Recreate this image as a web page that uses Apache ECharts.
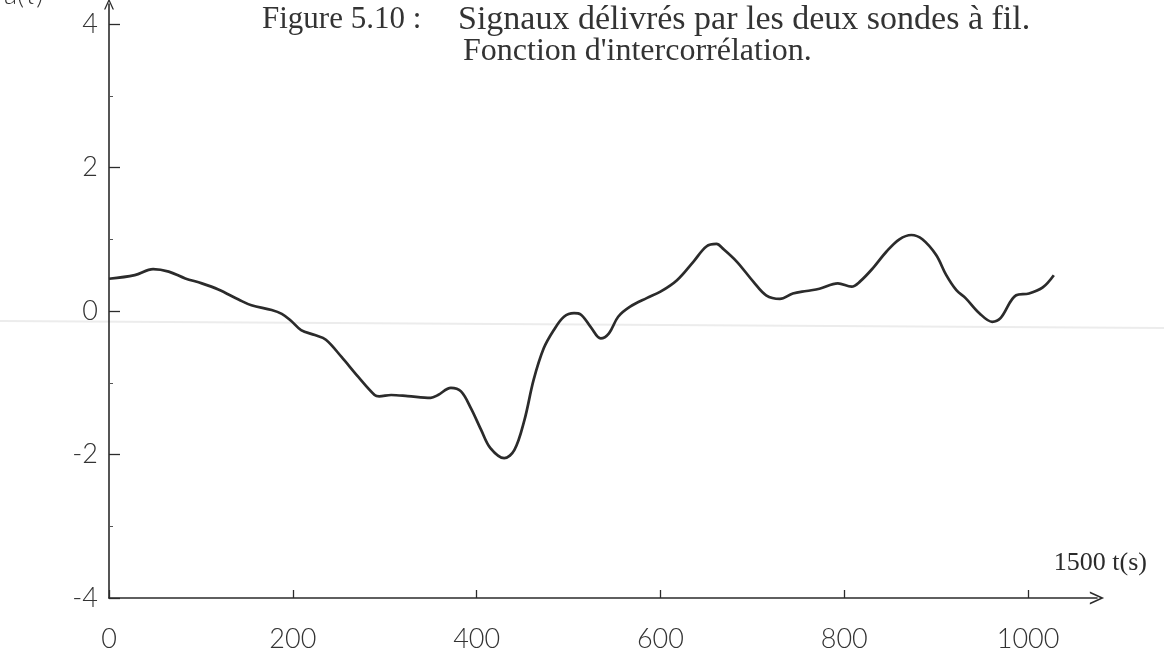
<!DOCTYPE html>
<html>
<head>
<meta charset="utf-8">
<script src="https://cdn.jsdelivr.net/npm/echarts@6/dist/echarts.min.js"></script>
<style>
  html, body { margin: 0; padding: 0; background: #fff; }
  #chart { width: 1164px; height: 660px; }
</style>
</head>
<body>
<div id="chart"></div>
<script>
// Cross-correlation of the two wire-probe signals, lag t in seconds
const lagT = [0, 28, 48, 65, 83, 101, 119, 141, 155, 177, 188, 198, 209, 224, 236, 253, 271, 289, 294, 307, 325, 350, 358, 372, 383, 394, 405, 415, 430, 441, 452, 462, 473, 484, 495, 506, 513, 524, 535, 544, 554, 567, 585, 600, 618, 636, 650, 661, 668, 683, 701, 715, 730, 744, 759, 773, 793, 808, 817, 831, 846, 860, 873, 885, 900, 911, 922, 932, 947, 961, 970, 987, 1001, 1016, 1028];
const corr = [0.45, 0.50, 0.585, 0.55, 0.455, 0.386, 0.30, 0.16, 0.08, 0.014, -0.04, -0.135, -0.265, -0.335, -0.40, -0.64, -0.915, -1.17, -1.19, -1.17, -1.185, -1.21, -1.17, -1.07, -1.12, -1.36, -1.66, -1.91, -2.05, -1.94, -1.52, -0.96, -0.52, -0.265, -0.08, -0.03, -0.045, -0.22, -0.38, -0.31, -0.08, 0.06, 0.18, 0.27, 0.43, 0.69, 0.90, 0.935, 0.87, 0.69, 0.41, 0.22, 0.17, 0.245, 0.28, 0.31, 0.385, 0.34, 0.41, 0.595, 0.83, 1.0, 1.06, 1.0, 0.78, 0.50, 0.29, 0.18, -0.03, -0.15, -0.10, 0.22, 0.245, 0.33, 0.50];

const xTicks = [0, 200, 400, 600, 800, 1000];
const yTicks = [-4, -2, 0, 2, 4];
const yMinorTicks = [-3, -1, 1, 3];
const titleLine1Left = 'Figure 5.10 :';
const titleLine1Right = 'Signaux délivrés par les deux sondes à fil.';
const titleLine2 = "Fonction d'intercorrélation.";
const xName = '1500 t(s)';
const yName = 'a(τ)';

const points = lagT.map((t, i) => [t, corr[i]]);

const ink = '#2b2b2b';
const serif = '"Liberation Serif", "DejaVu Serif", serif';
const sans = 'Lato, "Open Sans", sans-serif';
const openArrow = 'path://M5,0 L10,11 L8.6,11 L5,3 L1.4,11 L0,11 Z';

const chart = echarts.init(document.getElementById('chart'), null, { renderer: 'canvas' });

chart.setOption({
  backgroundColor: '#ffffff',
  animation: false,
  grid: { left: 109, right: 67, top: 4, bottom: 62, containLabel: false },
  xAxis: {
    type: 'value',
    min: 0,
    max: 1075,
    interval: 200,
    name: xName,
    nameLocation: 'end',
    nameGap: 50,
    nameTextStyle: {
      fontFamily: serif, fontSize: 26, color: ink,
      align: 'right', verticalAlign: 'bottom', padding: [0, 0, 22, 0]
    },
    axisLine: {
      show: true, onZero: false,
      symbol: ['none', openArrow], symbolSize: [13, 18],
      lineStyle: { color: ink, width: 1.6 }
    },
    axisTick: { show: true, inside: true, length: 8, customValues: xTicks, lineStyle: { color: ink, width: 1.3 } },
    axisLabel: {
      customValues: xTicks, margin: 28,
      formatter: v => String(v),
      fontFamily: sans, fontWeight: 300, fontSize: 27, color: '#333'
    },
    splitLine: { show: false }
  },
  yAxis: [
    {
      type: 'value',
      min: -4,
      max: 4.28,
      interval: 2,
      axisLine: {
        show: true, onZero: false,
        symbol: ['none', openArrow], symbolSize: [10, 14],
        lineStyle: { color: ink, width: 1.6 }
      },
      axisTick: { show: true, inside: true, length: 11, customValues: yTicks, lineStyle: { color: ink, width: 1.3 } },
      axisLabel: {
        customValues: yTicks, margin: 11,
        fontFamily: sans, fontWeight: 300, fontSize: 27, color: '#333'
      },
      splitLine: { show: false }
    },
    {
      type: 'value',
      min: -4,
      max: 4.28,
      position: 'left',
      axisLine: { show: false },
      axisTick: { show: true, inside: true, length: 4, customValues: yMinorTicks, lineStyle: { color: '#555', width: 1 } },
      axisLabel: { show: false },
      splitLine: { show: false }
    }
  ],
  series: [{
    type: 'line',
    data: points,
    smooth: 0.35,
    showSymbol: false,
    lineStyle: { color: ink, width: 2.7 }
  }],
  graphic: [
    // faint crease running across the sheet
    {
      type: 'line', silent: true, z: -1,
      shape: { x1: 0, y1: 321, x2: 1164, y2: 328 },
      style: { stroke: '#ececec', lineWidth: 2 }
    },
    {
      type: 'text', left: 262, top: 4,
      style: { text: titleLine1Left, font: '31px ' + serif, fill: '#333' }
    },
    {
      type: 'text', left: 458, top: 3,
      style: { text: titleLine1Right, font: '34px ' + serif, fill: '#333' }
    },
    {
      type: 'text', left: 463, top: 36,
      style: { text: titleLine2, font: '32px ' + serif, fill: '#333' }
    },
    {
      type: 'text', left: 4, top: -18,
      style: { text: yName, font: '300 27px ' + sans, fill: '#333' }
    }
  ]
});
</script>
</body>
</html>
